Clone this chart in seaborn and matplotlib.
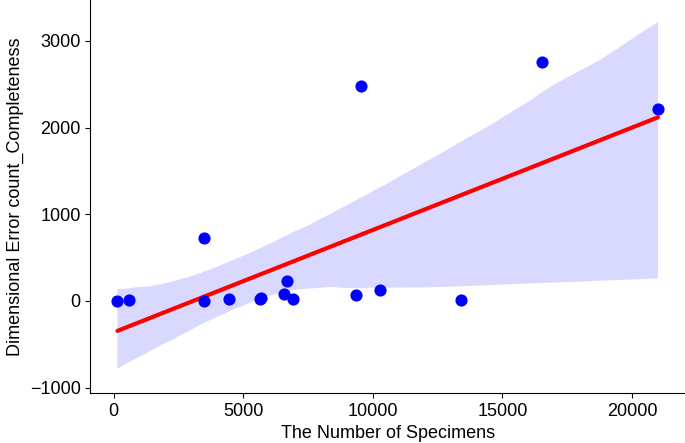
import numpy as np
import pandas as pd
import seaborn as sns
import matplotlib.pyplot as plt

# values
specimens = [150, 580, 3490, 3490, 4450, 5640, 5700, 6570, 6690, 6940,
             9350, 9550, 10260, 13410, 16520, 21000]
error_count = [3, 12, 723, 3, 27, 20, 31, 84, 234, 27,
               66, 2480, 127, 8, 2760, 2218]

df = pd.DataFrame({"The Number of Specimens": specimens,
                   "Dimensional Error count_Completeness": error_count})

sns.set_style("ticks", {'axes.edgecolor': 'black', 'text.color': 'black',
                        'axes.labelcolor': 'black', 'xtick.color': 'black',
                        'ytick.color': 'black'})
plt.rcParams['font.family'] = ['Liberation Sans', 'DejaVu Sans']
plt.rcParams['font.size'] = 13

fig, ax = plt.subplots(figsize=(6.85, 4.43), dpi=100)
sns.regplot(x="The Number of Specimens", y="Dimensional Error count_Completeness",
            data=df, ax=ax, color='blue', seed=3,
            scatter_kws={'s': 60, 'alpha': 1, 'zorder': 3},
            line_kws={'color': 'red', 'linewidth': 3})
# confidence band stays blue like the points
for coll in ax.collections[1:]:
    coll.set_facecolor((0, 0, 1, 0.15))
    coll.set_edgecolor('none')
sns.despine()
ax.set_ylim(-1060, 3470)
ax.set_yticks([-1000, 0, 1000, 2000, 3000])
ax.tick_params(labelsize=13, colors='black')
ax.xaxis.label.set_size(13)
ax.yaxis.label.set_size(13)
fig.subplots_adjust(left=0.132, right=1.0, bottom=0.113, top=1.0)
fig.savefig("out.png", dpi=100)
